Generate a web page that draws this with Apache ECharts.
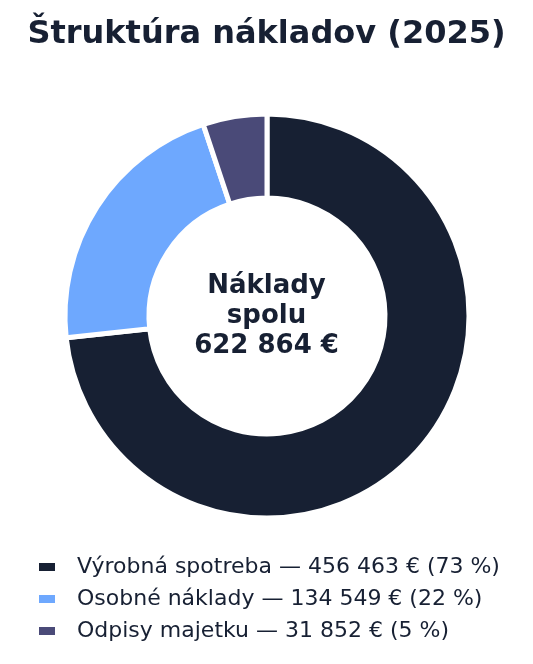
<!DOCTYPE html>
<html>
<head>
<meta charset="utf-8">
<script src="https://cdn.jsdelivr.net/npm/echarts@6/dist/echarts.min.js"></script>
<style>
html,body{margin:0;padding:0;background:#fff;}
#c{width:533px;height:664px;}
</style>
</head>
<body>
<div id="c"></div>
<script>
var titleText = 'Štruktúra nákladov (2025)';
var categories = ['Výrobná spotreba', 'Osobné náklady', 'Odpisy majetku'];
var values = [456463, 134549, 31852];
var colors = ['#172033', '#6ea8fe', '#4a4a78'];
var centerLabel = 'Náklady\nspolu\n622 864 €';

function fmt(n){
  return String(n).replace(/\B(?=(\d{3})+(?!\d))/g, '\u00a0');
}
var total = values.reduce(function(a,b){return a+b;},0);

var chart = echarts.init(document.getElementById('c'));
chart.setOption({
  backgroundColor: '#ffffff',
  animation: false,
  title: {
    text: titleText,
    left: 'center',
    top: 19,
    padding: 0,
    textStyle: {fontFamily: 'DejaVu Sans', fontWeight: 'bold', fontSize: 32, color: '#172033'}
  },
  legend: {
    orient: 'vertical',
    left: 37,
    top: 556,
    padding: 0,
    itemWidth: 18,
    itemHeight: 10,
    itemGap: 10,
    icon: 'rect',
    data: categories,
    formatter: function(name){
      var i = categories.indexOf(name);
      var v = values[i];
      return name + ' — ' + fmt(v) + ' € (' + Math.round(v/total*100) + ' %)';
    },
    textStyle: {fontFamily: 'DejaVu Sans', fontSize: 22, color: '#172033', padding: [0,0,0,16]}
  },
  series: [{
    type: 'pie',
    center: [267, 316],
    radius: [118, 202],
    startAngle: 90,
    clockwise: true,
    label: {show: false},
    labelLine: {show: false},
    itemStyle: {borderColor: '#ffffff', borderWidth: 5},
    emphasis: {disabled: true},
    data: categories.map(function(c,i){return {name: c, value: values[i], itemStyle: {color: colors[i]}};})
  }],
  graphic: [{
    type: 'text',
    left: 'center',
    top: 271,
    style: {
      text: centerLabel,
      fontFamily: 'DejaVu Sans',
      fontWeight: 'bold',
      fontSize: 26,
      lineHeight: 30,
      textAlign: 'center',
      fill: '#172033'
    }
  }]
});
</script>
</body>
</html>
